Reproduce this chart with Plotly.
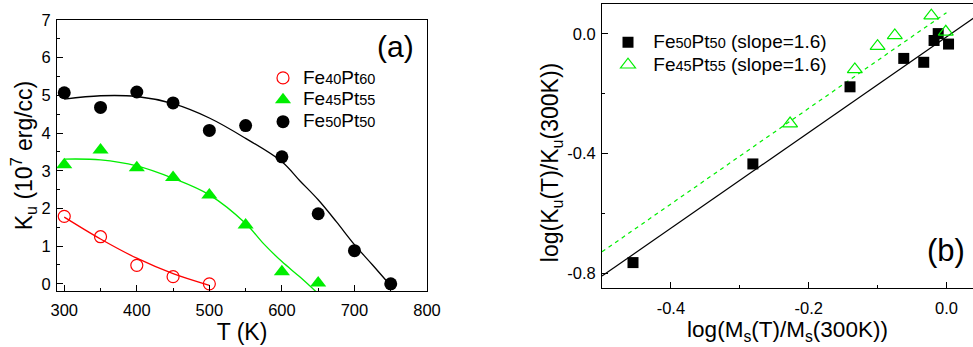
import numpy as np
import plotly.graph_objects as go

# ---------------- data: panel (a) ----------------
T_40 = [300, 350, 400, 450, 500]
Ku_40 = [1.79, 1.25, 0.49, 0.19, 0.0]
T_45 = [300, 350, 400, 450, 500, 550, 600, 650]
Ku_45 = [3.16, 3.55, 3.08, 2.82, 2.36, 1.56, 0.32, 0.02]
T_50 = [300, 350, 400, 450, 500, 550, 600, 650, 700, 750]
Ku_50 = [5.07, 4.68, 5.09, 4.80, 4.07, 4.20, 3.37, 1.86, 0.88, 0.0]

# fitted curves
fitT_40 = [300, 350, 400, 450, 500]
fitK_40 = [1.77, 1.19, 0.68, 0.27, -0.04]
fitT_45 = [300, 350, 400, 450, 500, 550, 575, 600, 625, 650]
fitK_45 = [3.31, 3.29, 3.13, 2.80, 2.36, 1.60, 1.06, 0.59, 0.18, -0.26]
fitT_50 = [300, 350, 400, 450, 500, 550, 600, 625, 650, 675, 700, 725, 750]
fitK_50 = [4.90, 4.99, 4.97, 4.78, 4.40, 3.86, 3.24, 2.73, 2.23, 1.65, 1.04, 0.50, -0.05]

# ---------------- data: panel (b) ----------------
lnM_50 = [-0.455, -0.281, -0.140, -0.062, -0.033, -0.018, -0.012, 0.003]
lnK_50 = [-0.765, -0.435, -0.177, -0.082, -0.095, -0.022, 0.001, -0.034]
lnM_45 = [-0.227, -0.133, -0.100, -0.075, -0.022, -0.001]
lnK_45 = [-0.300, -0.119, -0.041, -0.005, 0.061, 0.007]

fit_slope = [1.6, 1.6]
fit_intercept = [-0.010, 0.071]
fit_xstart = [-0.5, -0.5]
fit_xend = [0.06, 0.0]

# tick labels
a_xticks = [300, 400, 500, 600, 700, 800]
a_yticks = [0, 1, 2, 3, 4, 5, 6, 7]
b_xticks = [-0.4, -0.2, 0.0]
b_xticktext = ["-0.4", "-0.2", "0.0"]
b_yticks = [-0.8, -0.4, 0.0]
b_yticktext = ["-0.8", "-0.4", "0.0"]

RED = "#ff0000"
GREEN = "#00ee00"
FONT = "Arial, 'Liberation Sans', sans-serif"


def lbl(parts, tail="", lead=""):
    s = lead
    for i, p in enumerate(parts):
        size = 19 if i % 2 == 0 else 14.5
        s += '<span style="font-size:%spx">%s</span>' % (size, p)
    if tail:
        s += '<span style="font-size:19px">%s</span>' % tail
    return s


fig = go.Figure()

# panel (a) fit curves
for tx, ky, col in [(fitT_40, fitK_40, RED), (fitT_45, fitK_45, GREEN), (fitT_50, fitK_50, "black")]:
    fig.add_trace(go.Scatter(x=tx, y=ky, mode="lines", line=dict(color=col, width=1.3, shape="spline"),
                             showlegend=False, xaxis="x", yaxis="y", hoverinfo="skip"))

fig.add_trace(go.Scatter(x=T_40, y=Ku_40, mode="markers", name=lbl(["Fe", "40", "Pt", "60"]),
                         marker=dict(symbol="circle-open", size=12, color=RED, line=dict(width=1.2, color=RED)),
                         cliponaxis=False, xaxis="x", yaxis="y", legend="legend"))
fig.add_trace(go.Scatter(x=T_45, y=Ku_45, mode="markers", name=lbl(["Fe", "45", "Pt", "55"]),
                         marker=dict(symbol="triangle-up", size=14, color=GREEN),
                         cliponaxis=False, xaxis="x", yaxis="y", legend="legend"))
fig.add_trace(go.Scatter(x=T_50, y=Ku_50, mode="markers", name=lbl(["Fe", "50", "Pt", "50"]),
                         marker=dict(symbol="circle", size=13, color="black"),
                         cliponaxis=False, xaxis="x", yaxis="y", legend="legend"))

# panel (b) fit lines
for i, (col, dash) in enumerate([("black", "solid"), (GREEN, "4px,4px")]):
    xs = np.array([fit_xstart[i], fit_xend[i]])
    ys = fit_slope[i] * xs + fit_intercept[i]
    fig.add_trace(go.Scatter(x=xs, y=ys, mode="lines", line=dict(color=col, width=1.2, dash=dash),
                             showlegend=False, xaxis="x2", yaxis="y2", hoverinfo="skip"))

LEAD = '<span style="font-size:19px">&nbsp;</span>'
fig.add_trace(go.Scatter(x=lnM_50, y=lnK_50, mode="markers",
                         name=lbl(["Fe", "50", "Pt", "50"], " (slope=1.6)", LEAD),
                         marker=dict(symbol="square", size=11, color="black"),
                         cliponaxis=False, xaxis="x2", yaxis="y2", legend="legend2"))
fig.add_trace(go.Scatter(x=lnM_45, y=lnK_45, mode="markers",
                         name=lbl(["Fe", "45", "Pt", "55"], " (slope=1.6)", LEAD),
                         marker=dict(symbol="triangle-up-open", size=13, color=GREEN, line=dict(width=1.2, color=GREEN)),
                         cliponaxis=False, xaxis="x2", yaxis="y2", legend="legend2"))

W, H = 973, 347
axcommon = dict(showline=True, linecolor="black", linewidth=1, ticks="inside", ticklen=6, tickwidth=1,
                tickcolor="black", showgrid=False, zeroline=False, automargin=False,
                tickfont=dict(size=16.5, color="black", family=FONT))

fig.update_layout(
    width=W, height=H, margin=dict(l=0, r=0, t=0, b=0, pad=0, autoexpand=False),
    paper_bgcolor="white", plot_bgcolor="white",
    font=dict(family=FONT, color="black"),
    xaxis=dict(domain=[57 / W, 427 / W], range=[290, 800], tickvals=a_xticks, mirror=True,
               minor=dict(tickvals=[350, 450, 550, 650, 750], ticklen=3, ticks="inside", tickcolor="black"),
               title=dict(text="T (K)", font=dict(size=23), standoff=3), ticklabelstandoff=4,
               anchor="y", **axcommon),
    yaxis=dict(domain=[1 - 291 / H, 1 - 20 / H], range=[-0.19, 7], tickvals=a_yticks, mirror=True,
               minor=dict(tickvals=[0.5, 1.5, 2.5, 3.5, 4.5, 5.5, 6.5], ticklen=3, ticks="inside", tickcolor="black"),
               title=dict(text="K<sub>u</sub> (10<sup>7</sup> erg/cc)", font=dict(size=23), standoff=2),
               ticklabelstandoff=2, anchor="x", **axcommon),
    xaxis2=dict(domain=[602 / W, 1.0], range=[-0.5, 0.0385], tickvals=b_xticks, ticktext=b_xticktext, mirror=True,
                minor=dict(tickvals=[-0.5, -0.3, -0.1], ticklen=3, ticks="inside", tickcolor="black"),
                title=dict(text="log(M<sub>s</sub>(T)/M<sub>s</sub>(300K))", font=dict(size=22.5), standoff=0),
                ticklabelstandoff=5, anchor="y2", **axcommon),
    yaxis2=dict(domain=[1 - 288 / H, 1 - 4 / H], range=[-0.85, 0.1], tickvals=b_yticks, ticktext=b_yticktext,
                mirror=False,
                minor=dict(tickvals=[-0.6, -0.2], ticklen=3, ticks="inside", tickcolor="black"),
                ticklabelstandoff=2, anchor="x2", **axcommon),
    legend=dict(x=263 / W, y=1 - 62 / H, xanchor="left", yanchor="top", bgcolor="rgba(0,0,0,0)",
                font=dict(size=14.5, family=FONT, color="black"), tracegroupgap=0),
    legend2=dict(x=608 / W, y=1 - 26 / H, xanchor="left", yanchor="top", bgcolor="rgba(0,0,0,0)",
                 font=dict(size=15, family=FONT, color="black"), tracegroupgap=0),
    annotations=[
        dict(text="(a)", x=395 / W, y=1 - 47 / H, xref="paper", yref="paper", showarrow=False,
             font=dict(size=30, family=FONT, color="black"), xanchor="center", yanchor="middle"),
        dict(text="(b)", x=946 / W, y=1 - 250 / H, xref="paper", yref="paper", showarrow=False,
             font=dict(size=31, family=FONT, color="black"), xanchor="center", yanchor="middle"),
        dict(text="log(K<sub>u</sub>(T)/K<sub>u</sub>(300K))", x=551.7 / W, y=1 - 162.5 / H,
             xref="paper", yref="paper", showarrow=False, textangle=-90,
             font=dict(size=23, family=FONT, color="black"), xanchor="center", yanchor="middle"),
    ],
)

fig.write_html("out.html")
